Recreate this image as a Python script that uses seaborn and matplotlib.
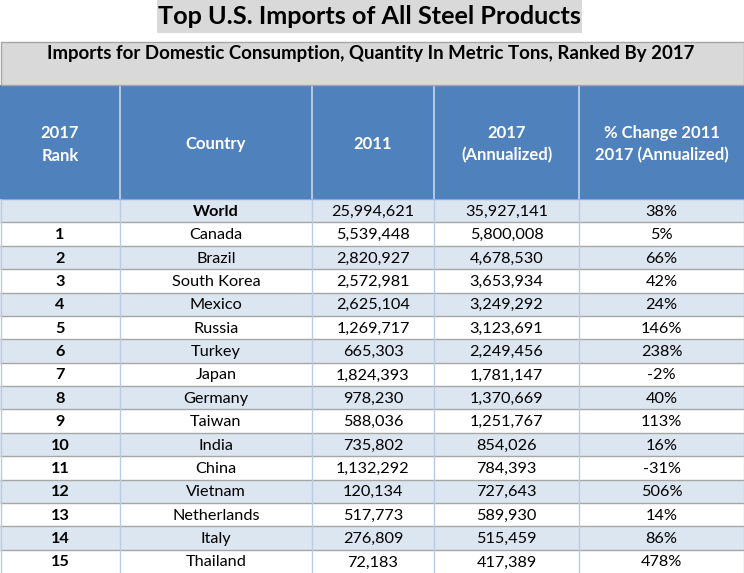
import numpy as np
import matplotlib
matplotlib.use("Agg")
import matplotlib.pyplot as plt
from matplotlib.colors import ListedColormap
from matplotlib.patches import Rectangle
import seaborn as sns

# ---- data ----
title = "Top U.S. Imports of All Steel Products"
subtitle = "Imports for Domestic Consumption, Quantity In Metric Tons, Ranked By 2017"
headers = ["2017\nRank", "Country", "2011", "2017\n(Annualized)", "% Change 2011\n2017 (Annualized)"]
ranks = ["", "1", "2", "3", "4", "5", "6", "7", "8", "9", "10", "11", "12", "13", "14", "15"]
countries = ["World", "Canada", "Brazil", "South Korea", "Mexico", "Russia", "Turkey", "Japan",
             "Germany", "Taiwan", "India", "China", "Vietnam", "Netherlands", "Italy", "Thailand"]
v2011 = [25994621, 5539448, 2820927, 2572981, 2625104, 1269717, 665303, 1824393,
         978230, 588036, 735802, 1132292, 120134, 517773, 276809, 72183]
v2017 = [35927141, 5800008, 4678530, 3653934, 3249292, 3123691, 2249456, 1781147,
         1370669, 1251767, 854026, 784393, 727643, 589930, 515459, 417389]
pct_change = [38, 5, 66, 42, 24, 146, 238, -2, 40, 113, 16, -31, 506, 14, 86, 478]

# ---- layout ----
W, H = 744, 573
col_widths = [120, 192, 122, 145, 165]
edges = np.concatenate([[0], np.cumsum(col_widths)])
centers = (edges[:-1] + edges[1:]) / 2

FONT = ["Lato", "DejaVu Sans"]
sns.set_theme(style="white")
plt.rcParams["font.family"] = FONT

fig = plt.figure(figsize=(W / 100, H / 100), dpi=100, facecolor="white")

def fy(px):
    return 1 - px / H

# title box
fig.patches.append(Rectangle((157 / W, fy(33)), 425 / W, 33 / H, transform=fig.transFigure,
                             facecolor="#D9D9D9", edgecolor="none", zorder=0))
fig.text(369.5 / W, fy(17), title, ha="center", va="center", fontsize=18.2, fontweight="bold",
         color="black")

# subtitle band
fig.patches.append(Rectangle((0.5 / W, fy(85)), (W - 1) / W, 43 / H, transform=fig.transFigure,
                             facecolor="#D9D9D9", edgecolor="#A6A6A6", lw=1, zorder=0))
fig.text(371 / W, fy(53), subtitle, ha="center", va="center", fontsize=13.4, fontweight="bold",
         color="black")

# header
hdr_top, hdr_bot = 85, 199
ax_h = fig.add_axes([0, fy(hdr_bot), 1, (hdr_bot - hdr_top) / H])
hdr = np.zeros((1, W))
sns.heatmap(hdr, ax=ax_h, cmap=ListedColormap(["#4F81BD"]), cbar=False,
            xticklabels=False, yticklabels=False)
ax_h.vlines(edges[1:-1], 0, 1, color="#C6D6EB", lw=1.2)
for x, t in zip(centers, headers):
    ax_h.text(x, 0.52, t, ha="center", va="center", color="white", fontsize=12,
              fontweight="bold", linespacing=1.5)

# body
n = len(countries)
ax_b = fig.add_axes([0, 0, 1, fy(hdr_bot)])
shade = np.array([[1 if i % 2 == 0 else 0] for i in range(n)]) * np.ones((n, W))
sns.heatmap(shade, ax=ax_b, cmap=ListedColormap(["white", "#DCE6F1"]), cbar=False,
            xticklabels=False, yticklabels=False, vmin=0, vmax=1)
ax_b.hlines(np.arange(0, n), 0, W, color="#A6A6A6", lw=1)
ax_b.vlines(edges[1:-1], 0, n, color="#B8CCE4", lw=1)
ax_b.vlines([0.5, W - 0.5], 0, n, color="#B8CCE4", lw=1)

for i in range(n):
    y = i + 0.55
    row = [ranks[i], countries[i], f"{v2011[i]:,}", f"{v2017[i]:,}", f"{pct_change[i]}%"]
    for j, (x, t) in enumerate(zip(centers, row)):
        w = "bold" if (j == 0 or (i == 0 and j == 1)) else "normal"
        ax_b.text(x, y, t, ha="center", va="center", color="black", fontsize=11.7, fontweight=w)

fig.savefig("out.png", dpi=100, facecolor="white")
